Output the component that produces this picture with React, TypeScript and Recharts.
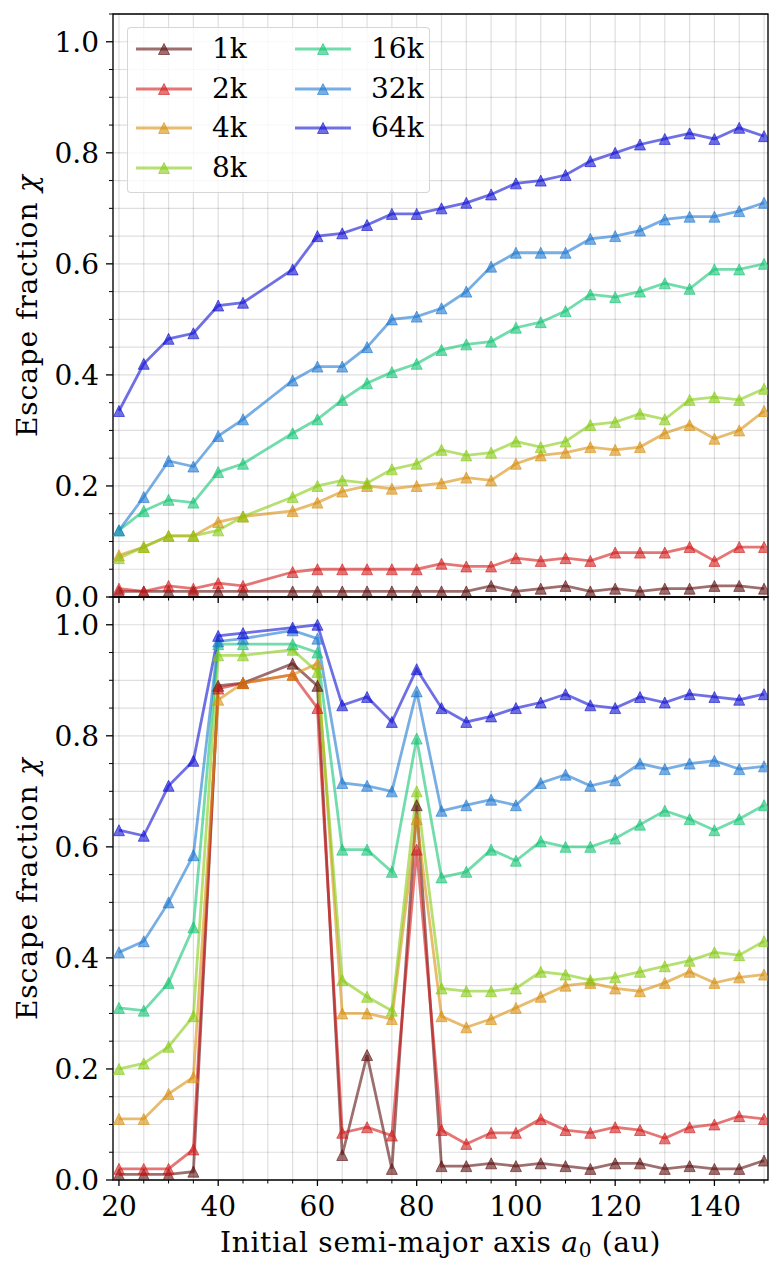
import React from 'react';
import { LineChart, Line, XAxis, YAxis, CartesianGrid, ReferenceArea, Legend } from 'recharts';

// Initial semi-major axis values (au)
const aValues = [20, 25, 30, 35, 40, 45, 55, 60, 65, 70, 75, 80, 85, 90, 95, 100, 105, 110, 115, 120, 125, 130, 135, 140, 145, 150];

const seriesNames = ['1k', '2k', '4k', '8k', '16k', '32k', '64k'];
const seriesColors = ['#5e0f0f', '#d41a1a', '#d88f0f', '#86cc12', '#14c474', '#1e78d0', '#1010d4'];

// Top panel
const top1k = [0.01, 0.01, 0.01, 0.01, 0.01, 0.01, 0.01, 0.01, 0.01, 0.01, 0.01, 0.01, 0.01, 0.01, 0.02, 0.01, 0.015, 0.02, 0.01, 0.015, 0.01, 0.015, 0.015, 0.02, 0.02, 0.015];
const top2k = [0.015, 0.01, 0.02, 0.015, 0.025, 0.02, 0.045, 0.05, 0.05, 0.05, 0.05, 0.05, 0.06, 0.055, 0.055, 0.07, 0.065, 0.07, 0.065, 0.08, 0.08, 0.08, 0.09, 0.065, 0.09, 0.09];
const top4k = [0.075, 0.09, 0.11, 0.11, 0.135, 0.145, 0.155, 0.17, 0.19, 0.2, 0.195, 0.2, 0.205, 0.215, 0.21, 0.24, 0.255, 0.26, 0.27, 0.265, 0.27, 0.295, 0.31, 0.285, 0.3, 0.335];
const top8k = [0.07, 0.09, 0.11, 0.11, 0.12, 0.145, 0.18, 0.2, 0.21, 0.205, 0.23, 0.24, 0.265, 0.255, 0.26, 0.28, 0.27, 0.28, 0.31, 0.315, 0.33, 0.32, 0.355, 0.36, 0.355, 0.375];
const top16k = [0.12, 0.155, 0.175, 0.17, 0.225, 0.24, 0.295, 0.32, 0.355, 0.385, 0.405, 0.42, 0.445, 0.455, 0.46, 0.485, 0.495, 0.515, 0.545, 0.54, 0.55, 0.565, 0.555, 0.59, 0.59, 0.6];
const top32k = [0.12, 0.18, 0.245, 0.235, 0.29, 0.32, 0.39, 0.415, 0.415, 0.45, 0.5, 0.505, 0.52, 0.55, 0.595, 0.62, 0.62, 0.62, 0.645, 0.65, 0.66, 0.68, 0.685, 0.685, 0.695, 0.71];
const top64k = [0.335, 0.42, 0.465, 0.475, 0.525, 0.53, 0.59, 0.65, 0.655, 0.67, 0.69, 0.69, 0.7, 0.71, 0.725, 0.745, 0.75, 0.76, 0.785, 0.8, 0.815, 0.825, 0.835, 0.825, 0.845, 0.83];

// Bottom panel
const bot1k = [0.01, 0.01, 0.01, 0.015, 0.89, 0.895, 0.93, 0.89, 0.045, 0.225, 0.02, 0.675, 0.025, 0.025, 0.03, 0.025, 0.03, 0.025, 0.02, 0.03, 0.03, 0.02, 0.025, 0.02, 0.02, 0.035];
const bot2k = [0.02, 0.02, 0.02, 0.055, 0.885, 0.895, 0.91, 0.85, 0.085, 0.095, 0.08, 0.595, 0.09, 0.065, 0.085, 0.085, 0.11, 0.09, 0.085, 0.095, 0.09, 0.075, 0.095, 0.1, 0.115, 0.11];
const bot4k = [0.11, 0.11, 0.155, 0.185, 0.865, 0.895, 0.91, 0.93, 0.3, 0.3, 0.29, 0.65, 0.295, 0.275, 0.29, 0.31, 0.33, 0.35, 0.355, 0.345, 0.34, 0.355, 0.375, 0.355, 0.365, 0.37];
const bot8k = [0.2, 0.21, 0.24, 0.295, 0.945, 0.945, 0.955, 0.915, 0.36, 0.33, 0.305, 0.7, 0.345, 0.34, 0.34, 0.345, 0.375, 0.37, 0.36, 0.365, 0.375, 0.385, 0.395, 0.41, 0.405, 0.43];
const bot16k = [0.31, 0.305, 0.355, 0.455, 0.965, 0.965, 0.965, 0.95, 0.595, 0.595, 0.555, 0.795, 0.545, 0.555, 0.595, 0.575, 0.61, 0.6, 0.6, 0.615, 0.64, 0.665, 0.65, 0.63, 0.65, 0.675];
const bot32k = [0.41, 0.43, 0.5, 0.585, 0.97, 0.975, 0.99, 0.975, 0.715, 0.71, 0.7, 0.88, 0.665, 0.675, 0.685, 0.675, 0.715, 0.73, 0.71, 0.72, 0.75, 0.74, 0.75, 0.755, 0.74, 0.745];
const bot64k = [0.63, 0.62, 0.71, 0.755, 0.98, 0.985, 0.995, 1.0, 0.855, 0.87, 0.825, 0.92, 0.85, 0.825, 0.835, 0.85, 0.86, 0.875, 0.855, 0.85, 0.87, 0.86, 0.875, 0.87, 0.865, 0.875];

const xTicks = [20, 25, 30, 35, 40, 45, 50, 55, 60, 65, 70, 75, 80, 85, 90, 95, 100, 105, 110, 115, 120, 125, 130, 135, 140, 145, 150];
const xLabelTicks = [20, 40, 60, 80, 100, 120, 140];
const yTicks = [0, 0.05, 0.1, 0.15, 0.2, 0.25, 0.3, 0.35, 0.4, 0.45, 0.5, 0.55, 0.6, 0.65, 0.7, 0.75, 0.8, 0.85, 0.9, 0.95, 1.0, 1.05];
const yLabelTicks = ['0.0', '0.2', '0.4', '0.6', '0.8', '1.0'];
const xDomain: [number, number] = [18.8, 150.8];
const yDomain: [number, number] = [0, 1.05];

const FONT =
  "'DejaVu Serif', 'Liberation Serif', 'Times New Roman', Times, 'Nimbus Roman', FreeSerif, Georgia, serif";
const FS = 28;

const buildRows = (series: number[][]) =>
  aValues.map((a, i) => {
    const row: Record<string, number> = { a };
    series.forEach((s, k) => {
      row['s' + k] = s[i];
    });
    return row;
  });

const topRows = buildRows([top1k, top2k, top4k, top8k, top16k, top32k, top64k]);
const botRows = buildRows([bot1k, bot2k, bot4k, bot8k, bot16k, bot32k, bot64k]);

const triPoints = (cx: number, cy: number, h: number) =>
  `${cx},${cy - h} ${cx - h},${cy + h} ${cx + h},${cy + h}`;

const makeDot = (color: string) => (props: any) => {
  const { cx, cy, index } = props;
  if (cx == null || cy == null || isNaN(cx) || isNaN(cy)) return <g key={`e${index}`} />;
  return (
    <polygon
      key={`d${index}`}
      points={triPoints(cx, cy, 5.5)}
      fill={color}
      fillOpacity={0.6}
      stroke={color}
      strokeOpacity={0.6}
      strokeWidth={1}
    />
  );
};

const findYLabel = (v: number) => yLabelTicks.find((t) => Math.abs(parseFloat(t) - v) < 1e-6);

const YTick = (props: any) => {
  const { x, y, payload } = props;
  const v = payload.value as number;
  const label = findYLabel(v);
  const major = label !== undefined;
  return (
    <g>
      <line x1={x - (major ? 7 : 4)} x2={x} y1={y} y2={y} stroke="#000" strokeWidth={major ? 1.3 : 1} />
      {major && (
        <text x={x - 14} y={y} dy="0.37em" textAnchor="end" style={{ fontFamily: FONT }} fontSize={FS} fill="#000">
          {label}
        </text>
      )}
    </g>
  );
};

const XTickBottom = (props: any) => {
  const { x, y, payload } = props;
  const v = payload.value as number;
  const major = xLabelTicks.includes(v);
  return (
    <g>
      <line x1={x} x2={x} y1={y} y2={y + (major ? 6 : 3.5)} stroke="#000" strokeWidth={major ? 1.3 : 1} />
      {major && (
        <text x={x} y={y + 36} textAnchor="middle" style={{ fontFamily: FONT }} fontSize={FS} fill="#000">
          {v}
        </text>
      )}
    </g>
  );
};

const XTickTop = (props: any) => {
  const { x, y, payload } = props;
  const v = payload.value as number;
  const major = xLabelTicks.includes(v);
  return (
    <g>
      <line x1={x} x2={x} y1={y} y2={y + (major ? 6 : 3.5)} stroke="#000" strokeWidth={major ? 1.3 : 1} />
    </g>
  );
};

const YTitle = (props: any) => {
  const vb = props.viewBox || { x: 0, y: 0, width: 113, height: 583 };
  const cx = vb.x + 27;
  const cy = vb.y + vb.height / 2;
  return (
    <text
      x={cx}
      y={cy}
      transform={`rotate(-90, ${cx}, ${cy})`}
      textAnchor="middle"
      dy="0.35em"
      style={{ fontFamily: FONT, letterSpacing: '0.9px' }}
      fontSize={FS}
      fill="#000"
    >
      Escape fraction <tspan fontStyle="italic">χ</tspan>
    </text>
  );
};

const XTitle = (props: any) => {
  const vb = props.viewBox || { x: 113, y: 597, width: 655, height: 96 };
  const cx = vb.x + vb.width / 2;
  const y = vb.y + 72;
  return (
    <text x={cx} y={y} textAnchor="middle" style={{ fontFamily: FONT, letterSpacing: '0.7px' }} fontSize={FS} fill="#000">
      Initial semi-major axis <tspan fontStyle="italic">a</tspan>
      <tspan fontSize={20} dy={5}>0</tspan>
      <tspan dy={-5}> (au)</tspan>
    </text>
  );
};

const LegendBox = () => (
  <div
    style={{
      position: 'relative',
      width: 303,
      height: 166,
      background: 'rgba(255,255,255,0.8)',
      border: '1px solid rgba(204,204,204,0.8)',
      borderRadius: 4,
      boxSizing: 'border-box',
    }}
  >
    {seriesNames.map((n, i) => {
      const col = i < 4 ? 0 : 1;
      const row = i % 4;
      const c = seriesColors[i];
      return (
        <div
          key={n}
          style={{
            position: 'absolute',
            left: 8 + col * 159,
            top: 21 + row * 39.5 - 14,
            height: 28,
            display: 'flex',
            alignItems: 'center',
            whiteSpace: 'nowrap',
          }}
        >
          <svg width={56} height={28} style={{ display: 'block' }}>
            <line x1={0} x2={56} y1={14} y2={14} stroke={c} strokeOpacity={0.6} strokeWidth={2.8} />
            <polygon points={triPoints(28, 14, 5.5)} fill={c} fillOpacity={0.6} stroke={c} strokeOpacity={0.6} strokeWidth={1} />
          </svg>
          <span style={{ marginLeft: 20, fontFamily: FONT, fontSize: FS, lineHeight: '28px', color: '#000' }}>{n}</span>
        </div>
      );
    })}
  </div>
);

type PanelProps = { rows: Record<string, number>[]; height: number; bottom: boolean };

const Panel = ({ rows, height, bottom }: PanelProps) => (
  <LineChart width={781} height={height} data={rows} margin={{ top: 14, right: 13, bottom: 0, left: 0 }}>
    <CartesianGrid stroke="#000" strokeOpacity={0.13} strokeWidth={1.2} />
    <XAxis
      dataKey="a"
      type="number"
      domain={xDomain}
      ticks={xTicks}
      interval={0}
      height={bottom ? 96 : 33}
      tickSize={0}
      tickMargin={0}
      tickLine={false}
      axisLine={false}
      tick={bottom ? <XTickBottom /> : <XTickTop />}
      label={bottom ? <XTitle /> : undefined}
      allowDataOverflow
    />
    <YAxis
      type="number"
      domain={yDomain}
      ticks={yTicks}
      interval={0}
      width={113}
      tickSize={0}
      tickMargin={0}
      tickLine={false}
      axisLine={false}
      tick={<YTick />}
      label={<YTitle />}
      allowDataOverflow
    />
    {seriesNames.map((n, k) => (
      <Line
        key={n}
        type="linear"
        dataKey={'s' + k}
        name={n}
        stroke={seriesColors[k]}
        strokeOpacity={0.6}
        strokeWidth={2.8}
        dot={makeDot(seriesColors[k])}
        activeDot={false}
        isAnimationActive={false}
      />
    ))}
    <ReferenceArea
      x1={xDomain[0]}
      x2={xDomain[1]}
      y1={yDomain[0]}
      y2={yDomain[1]}
      fill="none"
      fillOpacity={0}
      stroke="#000"
      strokeWidth={1.3}
      ifOverflow="visible"
    />
    {!bottom && (
      <Legend
        layout="vertical"
        align="center"
        verticalAlign="middle"
        wrapperStyle={{ left: 127, top: 27, width: 303, height: 166 }}
        content={() => <LegendBox />}
      />
    )}
  </LineChart>
);

export default function App() {
  return (
    <div style={{ position: 'absolute', left: 0, top: 0, width: 781, height: 1276, background: '#fff' }}>
      <div style={{ position: 'absolute', left: 0, top: 0 }}>
        <Panel rows={topRows} height={630} bottom={false} />
      </div>
      <div style={{ position: 'absolute', left: 0, top: 583 }}>
        <Panel rows={botRows} height={693} bottom={true} />
      </div>
    </div>
  );
}
